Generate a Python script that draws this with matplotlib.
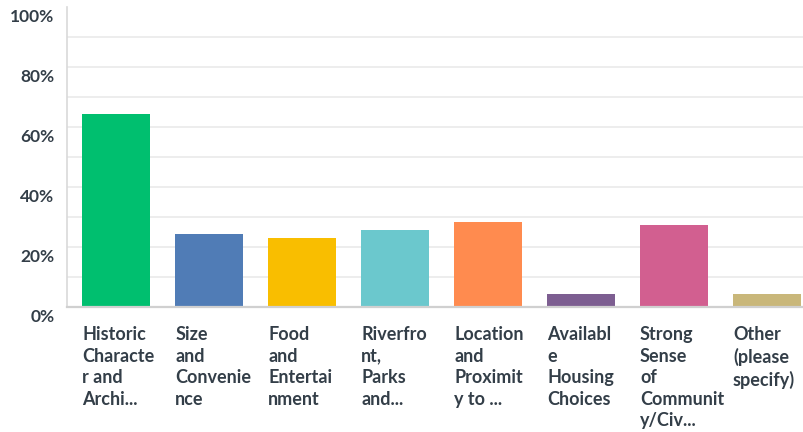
import numpy as np
import matplotlib
matplotlib.use('Agg')
import matplotlib.pyplot as plt
from matplotlib import transforms

plt.rcParams['font.family'] = ['Lato', 'DejaVu Sans']

categories = ['Historic\nCharacte\nr and\nArchi...',
              'Size\nand\nConvenie\nnce',
              'Food\nand\nEntertai\nnment',
              'Riverfro\nnt,\nParks\nand...',
              'Location\nand\nProximit\ny to ...',
              'Availabl\ne\nHousing\nChoices',
              'Strong\nSense\nof\nCommunit\ny/Civ...',
              'Other\n(please\nspecify)']
values = [64.4, 24.5, 23.1, 25.6, 28.2, 4.4, 27.2, 4.4]
colors = ['#00bf6f', '#507cb6', '#f9be00', '#6bc8cd',
          '#ff8b4f', '#7d5e91', '#d25f90', '#c9b77a']
yticks = [0, 20, 40, 60, 80, 100]
textcol = '#333e48'

fig = plt.figure(figsize=(8.04, 4.32), dpi=100, facecolor='white')
ax = fig.add_axes([67/804, 125/432, (804-67)/804, 300/432])

x = np.arange(len(values))
ax.bar(x, values, width=0.73, color=colors, zorder=3)

ax.set_xlim(-0.53, 7.40)
ax.set_ylim(0, 100)

# light grid every 10%
for g in range(10, 100, 10):
    ax.axhline(g, color='#ececec', lw=1.3, zorder=1)

for s in ['top', 'right']:
    ax.spines[s].set_visible(False)
ax.spines['left'].set_color('#d9d9d9')
ax.spines['left'].set_linewidth(1.2)
ax.spines['bottom'].set_color('#d0d0d0')
ax.spines['bottom'].set_linewidth(1.6)
ax.spines['bottom'].set_zorder(4)

ax.set_xticks([])
ax.set_yticks(yticks)
ax.set_yticklabels([f'{t}%' for t in yticks], fontsize=12.5,
                   fontweight='bold', color=textcol)
ax.tick_params(axis='y', length=0, pad=9)
off = transforms.ScaledTranslation(0, -9/100, fig.dpi_scale_trans)
for lab in ax.get_yticklabels():
    lab.set_transform(lab.get_transform() + off)

# category labels under bars, left aligned with bar edge
trans = transforms.blended_transform_factory(ax.transData, fig.transFigure)
for i, lab in enumerate(categories):
    ax.text(i - 0.365, (432-326)/432, lab, transform=trans, ha='left',
            va='top', fontsize=13, fontweight='bold', color=textcol,
            linespacing=1.33, clip_on=False)

fig.savefig('out.png', dpi=100, facecolor='white')
